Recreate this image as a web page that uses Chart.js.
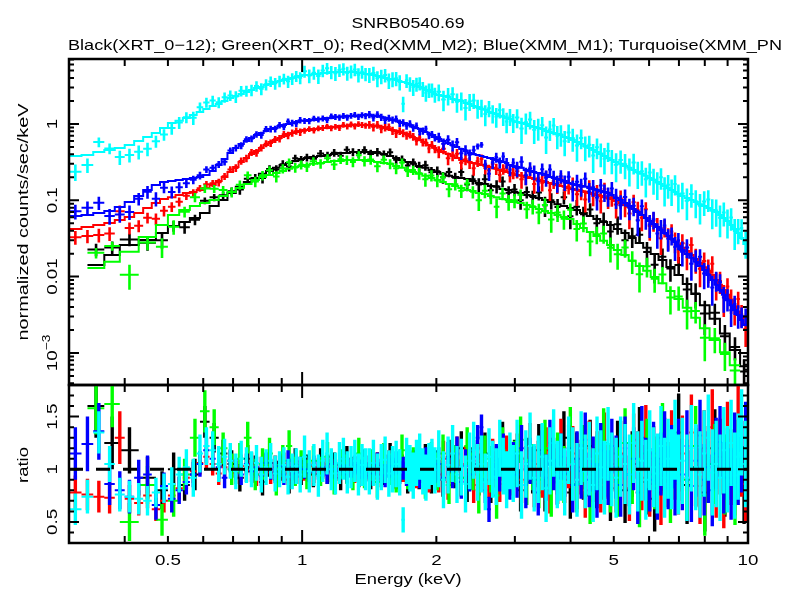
<!DOCTYPE html>
<html>
<head>
<meta charset="utf-8">
<script src="https://cdn.jsdelivr.net/npm/chart.js@4.4.0/dist/chart.umd.min.js"></script>
<style>
  body { margin: 0; background: #fff; }
  #wrap { position: relative; width: 797px; height: 593px; }
  #wrap canvas { position: absolute; left: 0; top: 0; }
</style>
</head>
<body>
<div id="wrap">
  <canvas id="spec" width="797" height="593"></canvas>
  <canvas id="ratio" width="797" height="593"></canvas>
</div>
<script>
// channel bin edges in keV
var xmmEdges = [
  0.30, 0.32, 0.34, 0.36, 0.38, 0.40, 0.42, 0.44, 0.46, 0.48, 0.50,
  0.52, 0.54, 0.56, 0.58, 0.60, 0.62, 0.64, 0.66, 0.68, 0.70, 0.72, 0.74, 0.76, 0.78, 0.80,
  0.82, 0.84, 0.86, 0.88, 0.90, 0.92, 0.94, 0.96, 0.98, 1.00,
  1.025, 1.05, 1.075, 1.10, 1.125, 1.15, 1.175, 1.20, 1.225, 1.25, 1.275, 1.30, 1.325, 1.35, 1.375, 1.40,
  1.43, 1.46, 1.49, 1.52, 1.55, 1.58, 1.61, 1.64, 1.67, 1.70, 1.73, 1.76, 1.79, 1.82, 1.85, 1.88, 1.91, 1.94, 1.97, 2.00,
  2.05, 2.10, 2.15, 2.20, 2.25, 2.30, 2.35, 2.40, 2.45, 2.50, 2.55, 2.60, 2.65, 2.70, 2.75, 2.80, 2.85, 2.90, 2.95, 3.00,
  3.07, 3.14, 3.21, 3.28, 3.35, 3.42, 3.49, 3.56, 3.63, 3.70, 3.77, 3.84, 3.92, 4.00,
  4.09, 4.18, 4.27, 4.36, 4.45, 4.54, 4.63, 4.72, 4.81, 4.90, 5.00,
  5.12, 5.24, 5.36, 5.48, 5.60, 5.72, 5.84, 5.96, 6.08, 6.20, 6.32, 6.44, 6.56, 6.68, 6.80, 6.92, 7.04,
  7.21, 7.38, 7.55, 7.72, 7.89, 8.06, 8.23, 8.40, 8.57, 8.74, 8.91, 9.08, 9.25, 9.42, 9.59, 9.76, 10.0
];
var xrtEdges = [
  0.33, 0.36, 0.39, 0.43, 0.47, 0.50, 0.53, 0.56, 0.59, 0.62,
  0.65, 0.68, 0.71, 0.74, 0.77, 0.80, 0.83, 0.86, 0.89, 0.92,
  0.95, 0.98, 1.01, 1.04, 1.08, 1.12, 1.16, 1.20, 1.24, 1.28,
  1.32, 1.36, 1.40, 1.45, 1.50, 1.55, 1.60, 1.65, 1.70, 1.75,
  1.80, 1.86, 1.92, 1.98, 2.04, 2.10, 2.17, 2.24, 2.31, 2.38,
  2.45, 2.53, 2.61, 2.69, 2.77, 2.86, 2.95, 3.04, 3.14, 3.24,
  3.34, 3.45, 3.56, 3.68, 3.80, 3.93, 4.06, 4.20, 4.35, 4.50,
  4.66, 4.83, 5.00, 5.20, 5.40, 5.60, 5.82, 6.05, 6.30, 6.56,
  6.84, 7.14, 7.46, 7.80, 8.20, 8.65, 9.10, 9.60, 10.0
];

// folded model, counts/sec/keV per bin
var pnModel = [
  0.381, 0.392, 0.430, 0.456, 0.485, 0.531, 0.599, 0.676, 0.763, 0.886,
  1.03, 1.10, 1.20, 1.31, 1.44, 1.57, 1.72, 1.83, 2.00, 2.19, 2.33, 2.47, 2.62, 2.79, 2.96, 3.05, 3.24, 3.34, 3.55, 3.66, 3.77, 3.89, 4.01, 4.13, 4.26,
  4.39, 4.39, 4.52, 4.52, 4.66, 4.66, 4.80, 4.80, 4.80, 4.80, 4.80, 4.80, 4.80, 4.66, 4.66, 4.52,
  4.52, 4.39, 4.26, 4.13, 4.01, 3.89, 3.89, 3.77, 3.66, 3.55, 3.45, 3.34, 3.24, 3.15, 3.05, 2.96, 2.79, 2.71, 2.62, 2.47,
  2.40, 2.33, 2.26, 2.13, 2.06, 2.00, 1.88, 1.83, 1.72, 1.67, 1.57, 1.53, 1.44, 1.39, 1.35, 1.27, 1.24, 1.20, 1.16, 1.10,
  1.06, 1.03, 1.00, 0.94, 0.91, 0.886, 0.86, 0.81, 0.786, 0.763, 0.74, 0.718, 0.676, 0.656,
  0.617, 0.581, 0.547, 0.515, 0.485, 0.456, 0.430, 0.404, 0.381, 0.358, 0.338,
  0.318, 0.300, 0.282, 0.266, 0.250, 0.235, 0.222, 0.209, 0.196, 0.185, 0.174, 0.164, 0.154, 0.145, 0.136, 0.128, 0.121,
  0.114, 0.107, 0.101, 0.095, 0.089, 0.084, 0.079, 0.0746, 0.0702, 0.0642, 0.0587, 0.0536, 0.0475, 0.0421, 0.0373, 0.0321, 0.0268
];
var m1Model = [
  0.0623, 0.0642, 0.0682, 0.0724, 0.0817, 0.095, 0.114, 0.136, 0.159, 0.174,
  0.179, 0.185, 0.190, 0.196, 0.202, 0.215, 0.242, 0.290, 0.348, 0.417, 0.485, 0.547, 0.599, 0.656, 0.718, 0.763, 0.81, 0.86, 0.886, 0.94, 0.97, 1.00, 1.03, 1.06, 1.10,
  1.10, 1.13, 1.13, 1.16, 1.16, 1.20, 1.20, 1.24, 1.24, 1.24, 1.27, 1.27, 1.27, 1.27, 1.31, 1.31,
  1.31, 1.27, 1.27, 1.24, 1.20, 1.16, 1.13, 1.10, 1.06, 1.03, 1.00, 0.97, 0.91, 0.886, 0.86, 0.81, 0.786, 0.74, 0.718, 0.676,
  0.636, 0.599, 0.564, 0.531, 0.50, 0.47, 0.443, 0.417, 0.404, 0.392, 0.381, 0.369, 0.358, 0.348, 0.338, 0.328, 0.318, 0.309, 0.290, 0.282,
  0.274, 0.266, 0.250, 0.242, 0.235, 0.228, 0.222, 0.215, 0.202, 0.196, 0.190, 0.185, 0.179, 0.169,
  0.164, 0.159, 0.154, 0.150, 0.145, 0.141, 0.136, 0.132, 0.128, 0.125, 0.117,
  0.107, 0.101, 0.0921, 0.084, 0.0770, 0.0702, 0.0642, 0.0587, 0.0536, 0.0489, 0.0447, 0.0408, 0.0373, 0.0341, 0.0311, 0.0285, 0.0252,
  0.0223, 0.0198, 0.0176, 0.0156, 0.0138, 0.0122, 0.0105, 0.0090, 0.0078, 0.0067, 0.0058, 0.0049, 0.0042, 0.00365, 0.00315, 0.0027, 0.00233
];
var m2Model = [
  0.0421, 0.0447, 0.0475, 0.0504, 0.0552, 0.0604, 0.0682, 0.079, 0.0921, 0.104,
  0.110, 0.117, 0.125, 0.128, 0.136, 0.145, 0.159, 0.179, 0.202, 0.235, 0.274, 0.318, 0.358, 0.404, 0.443, 0.485, 0.531, 0.581, 0.617, 0.656, 0.696, 0.74, 0.763, 0.786, 0.81,
  0.834, 0.834, 0.86, 0.86, 0.886, 0.886, 0.91, 0.91, 0.94, 0.94, 0.94, 0.97, 0.97, 0.97, 0.97, 0.97,
  0.97, 0.94, 0.94, 0.91, 0.886, 0.86, 0.834, 0.81, 0.786, 0.763, 0.74, 0.696, 0.676, 0.636, 0.617, 0.581, 0.564, 0.531, 0.515, 0.485,
  0.456, 0.430, 0.404, 0.381, 0.358, 0.338, 0.328, 0.318, 0.309, 0.300, 0.290, 0.282, 0.274, 0.266, 0.258, 0.250, 0.242, 0.235, 0.228, 0.222,
  0.215, 0.209, 0.202, 0.196, 0.190, 0.185, 0.179, 0.174, 0.169, 0.164, 0.159, 0.154, 0.150, 0.145,
  0.141, 0.136, 0.132, 0.128, 0.125, 0.121, 0.117, 0.114, 0.110, 0.107, 0.104,
  0.098, 0.0921, 0.0867, 0.0817, 0.0770, 0.0702, 0.0642, 0.0587, 0.0536, 0.0489, 0.0447, 0.0408, 0.0373, 0.0341, 0.0311, 0.0285, 0.0260,
  0.0238, 0.0217, 0.0192, 0.0170, 0.0151, 0.0133, 0.0119, 0.0105, 0.0090, 0.0078, 0.0067, 0.0058, 0.0049, 0.0041, 0.0035, 0.0029, 0.0024
];
var xrt12Model = [
  0.0142, 0.0192, 0.0260, 0.0302, 0.0373, 0.0460, 0.0520, 0.0587, 0.0682, 0.084,
  0.101, 0.125, 0.150, 0.174, 0.196, 0.222, 0.242, 0.266, 0.290, 0.309,
  0.328, 0.348, 0.358, 0.369, 0.381, 0.392, 0.404, 0.417, 0.417, 0.430,
  0.430, 0.430, 0.430, 0.417, 0.404, 0.381, 0.358, 0.338, 0.318, 0.300,
  0.282, 0.266, 0.250, 0.235, 0.222, 0.209, 0.202, 0.196, 0.190, 0.179,
  0.169, 0.164, 0.154, 0.150, 0.141, 0.136, 0.128, 0.125, 0.117, 0.114,
  0.107, 0.101, 0.095, 0.089, 0.084, 0.079, 0.0746, 0.0682, 0.0623, 0.0570,
  0.0520, 0.0475, 0.0421, 0.0373, 0.0321, 0.0276, 0.0238, 0.0198, 0.0165, 0.0134,
  0.0105, 0.0080, 0.0059, 0.0042, 0.0028, 0.0018, 0.00109, 0.00067
];
var xrt0Model = [
  0.0130, 0.0156, 0.0211, 0.0330, 0.0475, 0.0642, 0.0746, 0.084, 0.0921, 0.101,
  0.114, 0.128, 0.145, 0.164, 0.185, 0.202, 0.215, 0.228, 0.242, 0.258,
  0.274, 0.282, 0.290, 0.300, 0.309, 0.318, 0.328, 0.328, 0.338, 0.338,
  0.338, 0.338, 0.328, 0.318, 0.309, 0.300, 0.282, 0.266, 0.250, 0.235,
  0.222, 0.209, 0.196, 0.185, 0.174, 0.164, 0.154, 0.145, 0.136, 0.132,
  0.125, 0.121, 0.114, 0.110, 0.104, 0.101, 0.095, 0.0921, 0.0867, 0.0817,
  0.0770, 0.0724, 0.0682, 0.0642, 0.0604, 0.0570, 0.0489, 0.0433, 0.0385, 0.0341,
  0.0294, 0.0260, 0.0223, 0.0192, 0.0161, 0.0138, 0.0119, 0.0099, 0.0082, 0.0065,
  0.0051, 0.0039, 0.0029, 0.0021, 0.00148, 0.00102, 0.00069
];

// data/model ratio per bin and its 1-sigma error
var pnRatio = [
  0.62, 0.74, 1.35, 1.05, 0.76, 0.74, 0.72, 0.70, 0.78, 0.82,
  0.86, 0.95, 1.02, 0.92, 1.15, 1.22, 1.18, 1.05, 1.12, 1.08, 0.98, 1.10, 1.04, 1.00, 1.06, 0.95, 1.02, 1.08, 0.96, 1.00, 1.04, 0.93, 0.98, 1.03, 0.95,
  1.12, 0.98, 1.04, 0.94, 1.08, 1.15, 1.00, 0.96, 1.06, 1.10, 0.97, 1.02, 1.08, 0.95, 1.04, 1.00,
  0.98, 1.06, 0.93, 1.02, 1.09, 0.96, 1.00, 1.05, 0.97, 0.52, 1.08, 1.01, 0.94, 1.06, 1.12, 0.98, 0.92, 1.03, 1.07, 0.99,
  1.10, 0.90, 1.04, 1.15, 0.95, 1.02, 0.86, 1.08, 1.18, 0.97, 1.05, 0.88, 1.12, 1.00, 0.93, 1.20, 1.03, 0.90, 1.08, 0.96,
  1.15, 0.85, 1.05, 1.22, 0.92, 1.00, 1.12, 0.82, 1.08, 1.25, 0.95, 1.02, 0.88, 1.18,
  1.05, 0.90, 1.20, 0.98, 1.10, 0.85, 1.15, 1.02, 0.92, 1.24, 1.00,
  0.92, 1.12, 1.05, 0.95, 1.25, 0.98, 1.08, 0.90, 1.18, 1.02, 0.96, 1.22, 0.92, 1.10, 1.00, 1.28, 0.95,
  1.08, 0.92, 1.20, 1.02, 0.95, 1.15, 1.30, 0.97, 1.05, 0.92, 1.18, 1.00, 1.25, 0.94, 1.12, 1.35, 1.05
];
var pnErr = [
  0.15, 0.16, 0.20, 0.17, 0.16, 0.15, 0.15, 0.14, 0.14, 0.14,
  0.16, 0.17, 0.17, 0.18, 0.18, 0.18, 0.18, 0.17, 0.17, 0.17, 0.17, 0.17, 0.17, 0.17, 0.17, 0.17, 0.17, 0.17, 0.17, 0.17, 0.17, 0.17, 0.17, 0.17, 0.17,
  0.20, 0.20, 0.20, 0.20, 0.20, 0.20, 0.20, 0.20, 0.20, 0.20, 0.20, 0.20, 0.20, 0.20, 0.20, 0.20,
  0.22, 0.22, 0.22, 0.22, 0.22, 0.22, 0.22, 0.22, 0.22, 0.12, 0.22, 0.22, 0.22, 0.22, 0.22, 0.22, 0.22, 0.22, 0.22, 0.22,
  0.27, 0.27, 0.27, 0.27, 0.27, 0.27, 0.27, 0.27, 0.27, 0.27, 0.27, 0.27, 0.27, 0.27, 0.27, 0.27, 0.27, 0.27, 0.27, 0.27,
  0.32, 0.32, 0.32, 0.32, 0.32, 0.32, 0.32, 0.32, 0.32, 0.32, 0.32, 0.32, 0.32, 0.32,
  0.35, 0.35, 0.35, 0.35, 0.35, 0.35, 0.35, 0.35, 0.35, 0.35, 0.35,
  0.38, 0.38, 0.38, 0.38, 0.38, 0.38, 0.38, 0.38, 0.38, 0.38, 0.38, 0.38, 0.38, 0.38, 0.38, 0.38, 0.38,
  0.41, 0.41, 0.41, 0.41, 0.41, 0.41, 0.41, 0.41, 0.41, 0.41, 0.41, 0.41, 0.41, 0.41, 0.41, 0.41, 0.41
];
var m1Ratio = [
  1.15, 1.24, 1.36, 0.86, 0.80, 0.74, 0.92, 0.95, 0.66, 0.84,
  0.72, 0.80, 0.88, 0.95, 1.05, 1.18, 1.10, 1.02, 0.92, 1.08, 1.00, 0.95, 1.05, 0.98, 1.02, 0.94, 1.06, 1.00, 0.97, 1.03, 0.95, 1.08, 1.00, 0.96, 1.02,
  1.00, 0.97, 1.04, 0.99, 1.02, 0.95, 1.05, 1.00, 0.98, 1.03, 0.96, 1.01, 1.04, 0.98, 1.00, 0.97,
  1.02, 0.96, 1.05, 0.99, 0.94, 1.03, 1.00, 1.06, 0.97, 1.01, 0.95, 1.04, 0.98, 1.07, 0.93, 1.00, 1.10, 0.96, 1.02, 0.98,
  1.05, 0.92, 1.10, 0.98, 1.15, 0.88, 1.03, 0.95, 1.12, 1.30, 1.40, 0.80, 0.62, 0.90, 1.08, 0.95, 1.18, 1.00, 0.87, 1.10,
  0.95, 1.20, 0.85, 1.08, 1.00, 0.78, 1.15, 0.92, 1.25, 1.02, 0.88, 1.12, 0.96, 1.20,
  0.85, 1.10, 0.98, 1.28, 0.90, 1.05, 0.80, 1.18, 1.00, 0.92, 1.22,
  1.02, 0.85, 1.20, 0.95, 1.10, 0.78, 1.30, 1.00, 0.90, 1.15, 0.82, 1.05, 1.25, 0.92, 1.12, 0.86, 1.18,
  0.95, 1.22, 0.84, 1.08, 1.32, 0.90, 1.02, 0.80, 1.15, 1.26, 0.92, 1.05, 0.86, 1.20, 1.00, 1.12, 1.30
];
var m1Err = [
  0.25, 0.26, 0.27, 0.20, 0.18, 0.16, 0.17, 0.18, 0.14, 0.13,
  0.13, 0.13, 0.12, 0.12, 0.12, 0.12, 0.11, 0.11, 0.10, 0.10, 0.10, 0.10, 0.10, 0.10, 0.10, 0.10, 0.10, 0.10, 0.10, 0.10, 0.10, 0.10, 0.10, 0.10, 0.10,
  0.09, 0.09, 0.09, 0.09, 0.09, 0.09, 0.09, 0.09, 0.09, 0.09, 0.09, 0.09, 0.09, 0.09, 0.09, 0.09,
  0.11, 0.11, 0.11, 0.11, 0.11, 0.11, 0.11, 0.11, 0.11, 0.11, 0.11, 0.11, 0.11, 0.11, 0.11, 0.11, 0.11, 0.11, 0.11, 0.11,
  0.16, 0.16, 0.16, 0.16, 0.16, 0.16, 0.16, 0.16, 0.16, 0.12, 0.12, 0.12, 0.12, 0.16, 0.16, 0.16, 0.16, 0.16, 0.16, 0.16,
  0.22, 0.22, 0.22, 0.22, 0.22, 0.22, 0.22, 0.22, 0.22, 0.22, 0.22, 0.22, 0.22, 0.22,
  0.26, 0.26, 0.26, 0.26, 0.26, 0.26, 0.26, 0.26, 0.26, 0.26, 0.26,
  0.30, 0.30, 0.30, 0.30, 0.30, 0.30, 0.30, 0.30, 0.30, 0.30, 0.30, 0.30, 0.30, 0.30, 0.30, 0.30, 0.30,
  0.34, 0.34, 0.34, 0.34, 0.34, 0.34, 0.34, 0.34, 0.34, 0.34, 0.34, 0.34, 0.34, 0.34, 0.34, 0.34, 0.34
];
var m2Ratio = [
  0.78, 0.76, 0.74, 0.73, 1.30, 0.72, 0.68, 0.75, 0.62, 0.70,
  0.75, 0.82, 0.92, 0.98, 1.06, 1.12, 1.05, 0.96, 1.02, 1.08, 0.97, 1.03, 0.99, 1.05, 0.95, 1.01, 1.04, 0.97, 1.02, 0.98, 1.05, 0.96, 1.00, 1.03, 0.97,
  0.98, 1.03, 0.96, 1.02, 1.00, 1.05, 0.97, 1.01, 0.95, 1.04, 0.99, 1.02, 0.96, 1.03, 1.00, 0.98,
  1.01, 0.97, 1.04, 0.95, 1.02, 1.06, 0.98, 0.93, 1.03, 1.00, 0.96, 1.05, 1.01, 0.94, 1.08, 0.99, 1.02, 0.90, 1.04, 0.97,
  0.95, 1.10, 0.88, 1.02, 1.14, 0.92, 1.05, 0.98, 0.85, 1.08, 1.20, 0.94, 0.90, 1.12, 1.00, 0.86, 1.06, 1.15, 0.92, 1.02,
  1.12, 0.90, 1.00, 1.22, 0.86, 1.05, 0.95, 1.18, 0.80, 1.08, 0.98, 1.26, 0.90, 1.04,
  1.15, 0.88, 1.02, 0.80, 1.20, 0.95, 1.10, 0.85, 1.28, 0.98, 1.05,
  0.90, 1.15, 1.00, 0.82, 1.22, 1.05, 0.92, 1.30, 0.86, 1.10, 1.00, 0.78, 1.18, 0.95, 1.25, 1.02, 0.88,
  1.15, 0.92, 1.35, 1.00, 0.84, 1.20, 1.05, 1.40, 0.90, 1.12, 0.80, 1.28, 1.02, 0.92, 1.45, 1.10, 0.86
];
var m2Err = [
  0.16, 0.15, 0.15, 0.15, 0.25, 0.13, 0.12, 0.12, 0.11, 0.11,
  0.11, 0.11, 0.11, 0.11, 0.11, 0.11, 0.11, 0.11, 0.11, 0.11, 0.11, 0.11, 0.11, 0.11, 0.11, 0.11, 0.11, 0.11, 0.11, 0.11, 0.11, 0.11, 0.11, 0.11, 0.11,
  0.09, 0.09, 0.09, 0.09, 0.09, 0.09, 0.09, 0.09, 0.09, 0.09, 0.09, 0.09, 0.09, 0.09, 0.09, 0.09,
  0.12, 0.12, 0.12, 0.12, 0.12, 0.12, 0.12, 0.12, 0.12, 0.12, 0.12, 0.12, 0.12, 0.12, 0.12, 0.12, 0.12, 0.12, 0.12, 0.12,
  0.17, 0.17, 0.17, 0.17, 0.17, 0.17, 0.17, 0.17, 0.17, 0.17, 0.17, 0.17, 0.17, 0.17, 0.17, 0.17, 0.17, 0.17, 0.17, 0.17,
  0.22, 0.22, 0.22, 0.22, 0.22, 0.22, 0.22, 0.22, 0.22, 0.22, 0.22, 0.22, 0.22, 0.22,
  0.26, 0.26, 0.26, 0.26, 0.26, 0.26, 0.26, 0.26, 0.26, 0.26, 0.26,
  0.31, 0.31, 0.31, 0.31, 0.31, 0.31, 0.31, 0.31, 0.31, 0.31, 0.31, 0.31, 0.31, 0.31, 0.31, 0.31, 0.31,
  0.36, 0.36, 0.36, 0.36, 0.36, 0.36, 0.36, 0.36, 0.36, 0.36, 0.36, 0.36, 0.36, 0.36, 0.36, 0.36, 0.36
];
var xrt12Ratio = [
  1.60, 1.25, 1.18, 0.92, 0.80, 1.00, 0.85, 0.95, 1.45, 1.30,
  1.15, 1.05, 0.92, 1.10, 1.00, 0.88, 1.06, 0.95, 1.02, 0.90,
  1.08, 0.97, 1.02, 0.95, 1.08, 0.98, 1.04, 0.92, 1.10, 1.00,
  0.96, 1.06, 0.94, 1.03, 0.98, 1.12, 0.95, 1.01, 0.90, 1.05,
  0.97, 1.08, 0.93, 1.02, 0.90, 1.12, 0.98, 1.20, 0.85, 1.05,
  0.95, 1.15, 0.88, 1.02, 1.25, 0.92, 1.08, 0.80, 1.10, 0.97,
  1.18, 0.85, 1.05, 0.92, 1.30, 0.78, 1.10, 0.96, 1.22, 0.88,
  1.02, 0.82, 1.15, 0.80, 1.05, 1.28, 0.88, 0.72, 1.10, 0.95,
  1.35, 0.85, 1.02, 0.78, 1.20, 0.92, 1.10, 0.85
];
var xrt12Err = [
  0.30, 0.25, 0.22, 0.20, 0.18, 0.16, 0.15, 0.15, 0.15, 0.14,
  0.13, 0.13, 0.13, 0.13, 0.13, 0.13, 0.13, 0.13, 0.13, 0.13,
  0.12, 0.12, 0.12, 0.12, 0.12, 0.12, 0.12, 0.12, 0.12, 0.12,
  0.13, 0.13, 0.13, 0.13, 0.13, 0.13, 0.13, 0.13, 0.13, 0.13,
  0.16, 0.16, 0.16, 0.16, 0.16, 0.16, 0.16, 0.16, 0.16, 0.16,
  0.20, 0.20, 0.20, 0.20, 0.20, 0.20, 0.20, 0.20, 0.20, 0.20,
  0.25, 0.25, 0.25, 0.25, 0.25, 0.25, 0.25, 0.25, 0.25, 0.25,
  0.31, 0.31, 0.31, 0.31, 0.31, 0.31, 0.31, 0.31, 0.31, 0.31,
  0.37, 0.37, 0.37, 0.37, 0.37, 0.37, 0.37, 0.37
];
var xrt0Ratio = [
  1.58, 1.62, 0.50, 0.85, 0.52, 0.70, 0.95, 1.30, 1.55, 1.40,
  1.20, 1.00, 1.10, 1.30, 0.95, 1.05, 1.15, 0.90, 1.08, 1.22,
  0.98, 1.04, 0.95, 1.08, 0.98, 1.12, 0.90, 1.05, 1.00, 0.94,
  1.15, 0.97, 1.04, 0.88, 1.10, 1.00, 0.93, 1.18, 0.96, 1.06,
  1.02, 0.90, 1.08, 0.98, 1.15, 0.85, 1.05, 0.92, 1.22, 0.98,
  0.80, 1.10, 1.00, 0.75, 1.18, 0.94, 1.05, 1.28, 0.88, 1.02,
  0.90, 1.20, 0.82, 1.08, 0.95, 1.32, 0.86, 1.15, 0.75, 1.05,
  1.25, 0.92, 0.88, 1.25, 1.00, 0.78, 1.15, 0.95, 1.30, 0.82,
  1.08, 0.90, 1.22, 0.75, 1.05, 0.95, 0.85
];
var xrt0Err = [
  0.25, 0.22, 0.18, 0.18, 0.15, 0.15, 0.15, 0.18, 0.20, 0.17,
  0.15, 0.15, 0.15, 0.15, 0.15, 0.15, 0.15, 0.15, 0.15, 0.15,
  0.14, 0.14, 0.14, 0.14, 0.14, 0.14, 0.14, 0.14, 0.14, 0.14,
  0.15, 0.15, 0.15, 0.15, 0.15, 0.15, 0.15, 0.15, 0.15, 0.15,
  0.18, 0.18, 0.18, 0.18, 0.18, 0.18, 0.18, 0.18, 0.18, 0.18,
  0.22, 0.22, 0.22, 0.22, 0.22, 0.22, 0.22, 0.22, 0.22, 0.22,
  0.27, 0.27, 0.27, 0.27, 0.27, 0.27, 0.27, 0.27, 0.27, 0.27,
  0.33, 0.33, 0.33, 0.33, 0.33, 0.33, 0.33, 0.33, 0.33, 0.33,
  0.38, 0.38, 0.38, 0.38, 0.38, 0.38, 0.38
];

// axis ticks and labels
var energyLabelVals = [0.5, 1, 2, 5, 10];
var energyLabels = ['0.5', '1', '2', '5', '10'];
var energyMajor = [1, 10];
var energyMinor = [0.4, 0.5, 0.6, 0.7, 0.8, 0.9, 2, 3, 4, 5, 6, 7, 8, 9];
var rateMajor = [0.001, 0.01, 0.1, 1];
var rateLabels = ['10', '0.01', '0.1', '1'];
var rateSup = ['\u22123', '', '', ''];
var ratioMajor = [0.5, 1, 1.5];
var ratioLabels = ['0.5', '1', '1.5'];
var ratioMinor = [0.4, 0.6, 0.7, 0.8, 0.9, 1.1, 1.2, 1.3, 1.4, 1.6, 1.7];

var rateMinor = [];
[0.0001, 0.001, 0.01, 0.1, 1].forEach(function (d) {
  for (var k = 2; k <= 9; k++) {
    var v = d * k;
    if (v > 3.8e-4 && v < 7.1) rateMinor.push(v);
  }
});

var groups = [
  { color: '#000000', edges: xrtEdges, model: xrt12Model, ratio: xrt12Ratio, err: xrt12Err },
  { color: '#ff0000', edges: xmmEdges, model: m2Model, ratio: m2Ratio, err: m2Err },
  { color: '#00ff00', edges: xrtEdges, model: xrt0Model, ratio: xrt0Ratio, err: xrt0Err },
  { color: '#0000ff', edges: xmmEdges, model: m1Model, ratio: m1Ratio, err: m1Err },
  { color: '#00ffff', edges: xmmEdges, model: pnModel, ratio: pnRatio, err: pnErr }
];

var FONT = '15px "Liberation Sans", Arial, sans-serif';
var SUPFONT = '11px "Liberation Sans", Arial, sans-serif';

// crosses: a horizontal bar across the bin and a vertical error bar
var errorBars = {
  id: 'errorBars',
  afterDatasetDraw: function (chart, args, opts) {
    var ds = chart.data.datasets[args.index];
    if (!ds.crosses) return;
    var ctx = chart.ctx, a = chart.chartArea;
    var xs = chart.scales.x, ys = chart.scales.y;
    ctx.save();
    ctx.beginPath();
    ctx.rect(a.left, a.top, a.right - a.left, a.bottom - a.top);
    ctx.clip();
    ctx.strokeStyle = ds.borderColor;
    ctx.lineWidth = 2;
    ctx.beginPath();
    ds.data.forEach(function (p) {
      var py = ys.getPixelForValue(p.y);
      ctx.moveTo(xs.getPixelForValue(p.xlo), py);
      ctx.lineTo(xs.getPixelForValue(p.xhi), py);
    });
    ctx.stroke();
    ctx.lineWidth = opts.barWidth || 2.6;
    ctx.beginPath();
    ds.data.forEach(function (p) {
      var px = xs.getPixelForValue(p.x);
      var y0 = p.ylo > 0 ? ys.getPixelForValue(p.ylo) : a.bottom + 4;
      ctx.moveTo(px, y0);
      ctx.lineTo(px, ys.getPixelForValue(p.yhi));
    });
    ctx.stroke();
    ctx.restore();
  }
};

function stretchText(ctx, s, x, y, width, align, rot) {
  ctx.save();
  ctx.font = FONT;
  var w = ctx.measureText(s).width;
  ctx.translate(x, y);
  if (rot) ctx.rotate(rot);
  ctx.scale(width / w, 1);
  ctx.textAlign = align;
  ctx.textBaseline = 'alphabetic';
  ctx.fillStyle = '#000';
  ctx.fillText(s, 0, 0);
  ctx.restore();
}

function tickText(ctx, s, sup, x, y, rot) {
  ctx.save();
  ctx.translate(x, y);
  if (rot) ctx.rotate(rot);
  ctx.scale(1.25, 1);
  ctx.fillStyle = '#000';
  ctx.textBaseline = 'alphabetic';
  ctx.textAlign = 'left';
  ctx.font = FONT;
  var w1 = ctx.measureText(s).width;
  ctx.font = SUPFONT;
  var w2 = sup ? ctx.measureText(sup).width : 0;
  var x0 = -(w1 + w2) / 2;
  ctx.font = FONT;
  ctx.fillText(s, x0, 0);
  if (sup) {
    ctx.font = SUPFONT;
    ctx.fillText(sup, x0 + w1, -7);
  }
  ctx.restore();
}

// box, inward ticks and labels of a panel
var frame = {
  id: 'frame',
  afterDraw: function (chart, args, o) {
    var ctx = chart.ctx, a = chart.chartArea;
    var xs = chart.scales.x, ys = chart.scales.y;
    ctx.save();
    ctx.strokeStyle = '#000';
    ctx.lineWidth = 2;
    ctx.beginPath();
    function xt(v, len) {
      var p = xs.getPixelForValue(v);
      ctx.moveTo(p, a.bottom); ctx.lineTo(p, a.bottom - len);
      ctx.moveTo(p, a.top); ctx.lineTo(p, a.top + len);
    }
    function yt(v, len) {
      var p = ys.getPixelForValue(v);
      ctx.moveTo(a.left, p); ctx.lineTo(a.left + len, p);
      ctx.moveTo(a.right, p); ctx.lineTo(a.right - len, p);
    }
    energyMajor.forEach(function (v) { xt(v, 13); });
    energyMinor.forEach(function (v) { xt(v, 7); });
    o.yMajor.forEach(function (v) { yt(v, 10); });
    o.yMinor.forEach(function (v) { yt(v, 5); });
    ctx.stroke();
    ctx.lineWidth = 2.5;
    ctx.strokeRect(a.left, a.top, a.right - a.left, a.bottom - a.top);

    o.yMajor.forEach(function (v, i) {
      tickText(ctx, o.yLabels[i], o.ySup ? o.ySup[i] : '', 57, ys.getPixelForValue(v), -Math.PI / 2);
    });
    if (o.energyAxis) {
      energyLabelVals.forEach(function (v, i) {
        tickText(ctx, energyLabels[i], '', xs.getPixelForValue(v), 565, 0);
      });
      stretchText(ctx, 'Energy (keV)', 408, 584, 107, 'center', 0);
    }
    if (o.yTitle) stretchText(ctx, o.yTitle, 28, o.yTitleAt, o.yTitleWidth, 'center', -Math.PI / 2);
    if (o.heading) {
      stretchText(ctx, 'SNRB0540.69', 408, 28, 113, 'center', 0);
      stretchText(ctx, 'Black(XRT_0\u221212); Green(XRT_0); Red(XMM_M2); Blue(XMM_M1); Turquoise(XMM_PN', 68, 50, 714, 'left', 0);
    }
    ctx.restore();
  }
};

var specSets = [], ratioSets = [];
groups.forEach(function (g, gi) {
  var steps = [], pts = [], rpts = [];
  for (var i = 0; i < g.model.length; i++) {
    var lo = g.edges[i], hi = g.edges[i + 1], m = g.model[i];
    var r = g.ratio[i], e = g.err[i], c = (lo + hi) / 2;
    steps.push({ x: lo, y: m }, { x: hi, y: m });
    pts.push({ x: c, y: m * r, xlo: lo, xhi: hi, ylo: m * (r - e), yhi: m * (r + e) });
    rpts.push({ x: c, y: r, xlo: lo, xhi: hi, ylo: r - e, yhi: r + e });
  }
  specSets.push({ data: steps, showLine: true, borderColor: g.color, borderWidth: 2, pointRadius: 0, order: 20 - 4 * gi });
  specSets.push({ data: pts, crosses: true, borderColor: g.color, pointRadius: 0, order: 19 - 4 * gi });
  ratioSets.push({ data: rpts, crosses: true, borderColor: g.color, pointRadius: 0, order: 19 - 4 * gi });
});
ratioSets.push({
  data: [{ x: 0.3, y: 1 }, { x: 10, y: 1 }], showLine: true, borderColor: '#000',
  borderWidth: 3, borderDash: [14, 13], pointRadius: 0, order: 0
});

function baseOptions(pad, y, frameOpts, barWidth) {
  return {
    responsive: false, animation: false, events: [],
    layout: { padding: pad },
    plugins: {
      legend: { display: false }, tooltip: { enabled: false },
      frame: frameOpts, errorBars: { barWidth: barWidth }
    },
    scales: {
      x: { type: 'logarithmic', min: 0.3, max: 10, display: false },
      y: y
    }
  };
}

new Chart(document.getElementById('spec'), {
  type: 'scatter',
  data: { datasets: specSets },
  options: baseOptions(
    { left: 69, right: 49, top: 59, bottom: 208 },
    { type: 'logarithmic', min: 3.8e-4, max: 7.1, display: false },
    { yMajor: rateMajor, yMinor: rateMinor, yLabels: rateLabels, ySup: rateSup,
      yTitle: 'normalized counts/sec/keV', yTitleAt: 222, yTitleWidth: 237, heading: true },
    2.6
  ),
  plugins: [errorBars, frame]
});

new Chart(document.getElementById('ratio'), {
  type: 'scatter',
  data: { datasets: ratioSets },
  options: baseOptions(
    { left: 69, right: 49, top: 385, bottom: 50 },
    { type: 'linear', min: 0.3, max: 1.8, display: false },
    { yMajor: ratioMajor, yMinor: ratioMinor, yLabels: ratioLabels,
      yTitle: 'ratio', yTitleAt: 465, yTitleWidth: 36, energyAxis: true },
    3.4
  ),
  plugins: [errorBars, frame]
});
</script>
</body>
</html>
